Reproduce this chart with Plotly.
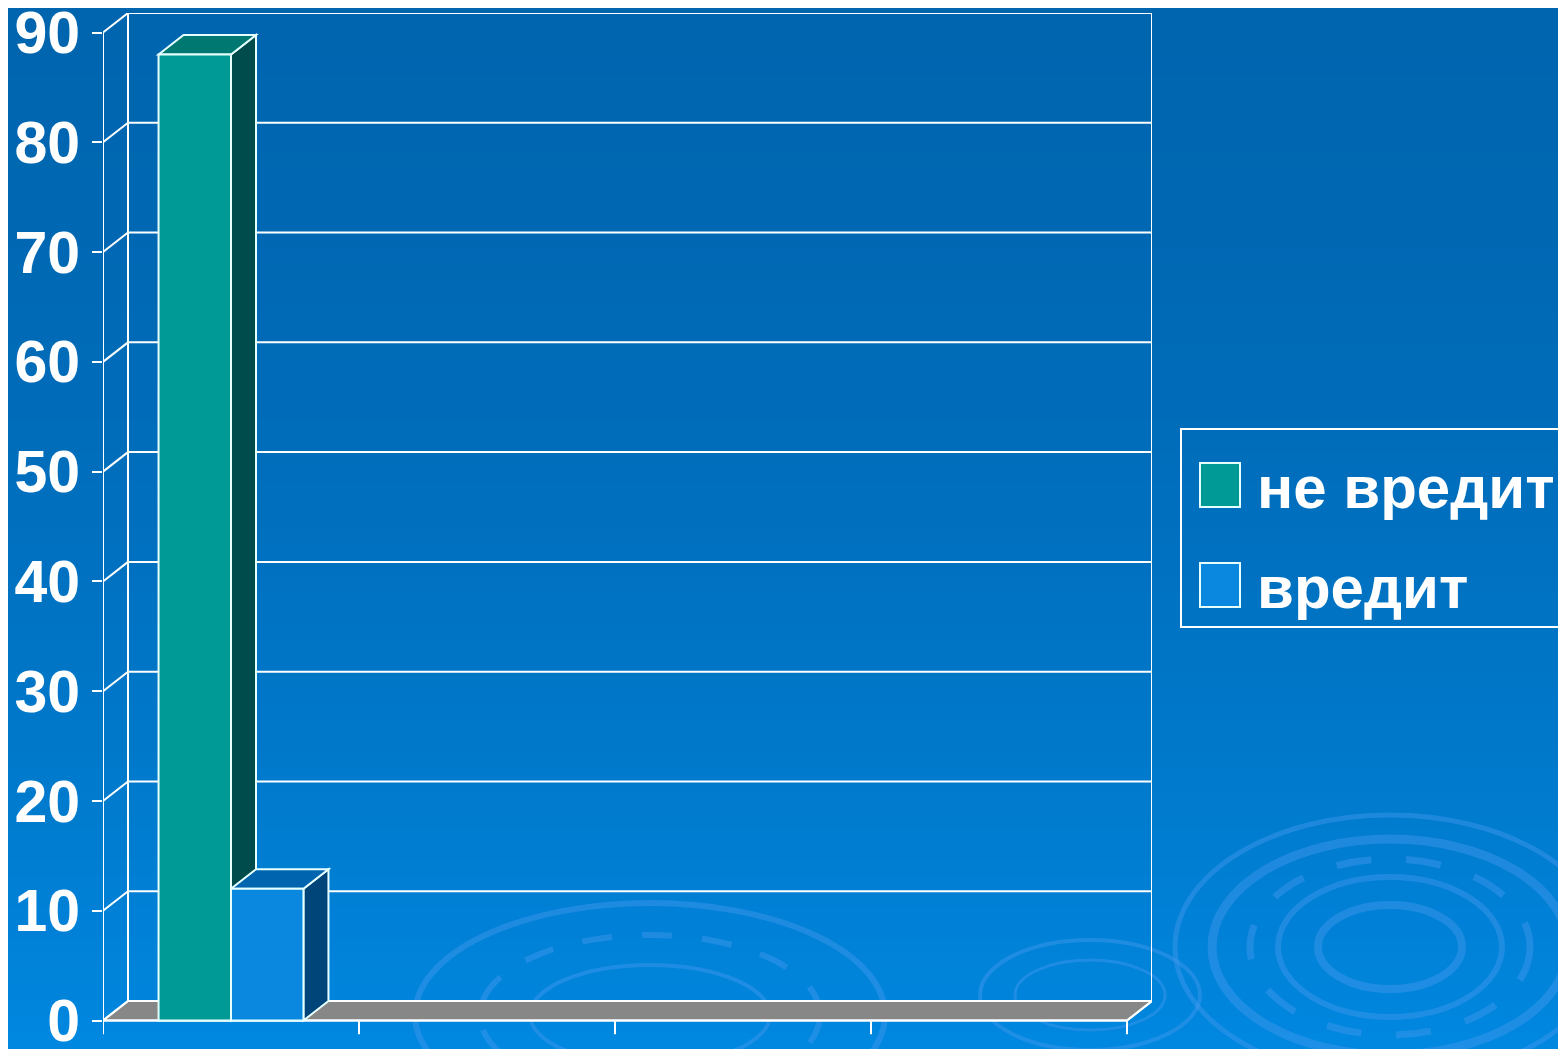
import plotly.graph_objects as go

# ---------------- data ----------------
categories = ["", "", "", ""]
series_names = ["не вредит", "вредит"]
ne_vredit = [88, None, None, None]
vredit = [12, None, None, None]
series_values = [ne_vredit, vredit]
y_ticks = [0, 10, 20, 30, 40, 50, 60, 70, 80, 90]

# ---------------- styles ----------------
W, H = 1566, 1049
OFF = 8                          # page body margin of the html page
# plot area in screen pixels: x 103..1152, y 13..1049
ML, MT = 103 - OFF, 13 - OFF
MR = W - (1152 - OFF)
MB = OFF
PW, PH = W - ML - MR, H - MT - MB
ncat = len(categories)
dx = 25 / 256.0                  # depth offset in x units
k = 10.978                       # px per value unit
dy = 19.5 / k                    # depth offset in value units
ymax = 90 + dy
ymin = ymax - PH / k
bar_w = 0.283

front_col = ["#009A96", "#0A88E0"]
side_col = ["#004C4C", "#00457A"]
top_col = ["#007872", "#0064AE"]
edge_col = "#E6FFFF"
FONT = "Liberation Sans, Arial, sans-serif"

def px2paper(sx, sy):
    """screen pixel -> paper coords"""
    return (sx - 103) / PW, (1049 - sy) / PH

shapes = []

# background gradient
N = 70
c0, c1 = (0, 101, 175), (0, 137, 226)
y_top, y_bot = -20, 1080
for i in range(N):
    t = (i + 0.5) / N
    tt = t ** 1.7
    col = tuple(int(round(c0[j] + (c1[j] - c0[j]) * tt)) for j in range(3))
    ya = px2paper(0, y_top + (y_bot - y_top) * i / N)[1]
    yb = px2paper(0, y_top + (y_bot - y_top) * (i + 1) / N + 1)[1]
    xa = px2paper(-20, 0)[0]
    xb = px2paper(W + 20, 0)[0]
    shapes.append(dict(type="rect", xref="paper", yref="paper", x0=xa, x1=xb,
                       y0=yb, y1=ya, fillcolor="rgb(%d,%d,%d)" % col,
                       line=dict(width=0), layer="below"))

# decorative ripples
ripples = [
    (1390, 947, 72, 42, 8, "solid"), (1390, 947, 112, 70, 6, "solid"),
    (1390, 947, 140, 88, 7, "longdash"), (1390, 947, 178, 108, 9, "solid"),
    (1390, 947, 215, 132, 5, "solid"),
    (650, 1015, 120, 50, 4, "solid"), (650, 1015, 170, 80, 6, "longdash"),
    (650, 1015, 235, 112, 6, "solid"),
    (1090, 995, 110, 55, 4, "solid"), (1090, 995, 75, 35, 3, "solid"),
]
for cx, cy, rx, ry, lw, dash in ripples:
    xa, ya = px2paper(cx - rx, cy + ry)
    xb, yb = px2paper(cx + rx, cy - ry)
    shapes.append(dict(type="circle", xref="paper", yref="paper", x0=xa, x1=xb,
                       y0=ya, y1=yb, fillcolor="rgba(0,0,0,0)",
                       line=dict(color="rgba(75,155,240,0.40)", width=lw, dash=dash),
                       layer="below"))

def seg(x0, y0, x1, y1, w=2, col="white"):
    shapes.append(dict(type="line", xref="x", yref="y", x0=x0, y0=y0, x1=x1, y1=y1,
                       line=dict(color=col, width=w), layer="below"))

def poly(pts, fill, w=2, col=edge_col):
    p = "M " + " L ".join("%f,%f" % (a, b) for a, b in pts) + " Z"
    shapes.append(dict(type="path", xref="x", yref="y", path=p, fillcolor=fill,
                       line=dict(color=col, width=w), layer="below"))

# floor
poly([(0, 0), (ncat, 0), (ncat + dx, dy), (dx, dy)], "#878787", 2, "white")

# back wall gridlines + left wall diagonals
for v in y_ticks:
    seg(dx, v + dy, ncat + dx, v + dy)
    seg(0, v, dx, v + dy)
seg(dx, dy, dx, y_ticks[-1] + dy)
seg(ncat + dx, dy, ncat + dx, y_ticks[-1] + dy)
seg(ncat, 0, ncat + dx, dy)
# front axes
seg(0, -1.2, 0, y_ticks[-1])
seg(0, 0, ncat, 0)
for i in range(ncat + 1):
    seg(i, 0, i, -1.25)

# bar 3D faces
offsets = [-bar_w, 0.0]
for s, vals in enumerate(series_values):
    for i, v in enumerate(vals):
        if v is None:
            continue
        xl = i + 0.5 + offsets[s]
        xr = xl + bar_w
        poly([(xr, 0), (xr, v), (xr + dx, v + dy), (xr + dx, dy)], side_col[s])
        poly([(xl, v), (xr, v), (xr + dx, v + dy), (xl + dx, v + dy)], top_col[s])

fig = go.Figure()
for s, vals in enumerate(series_values):
    xs = [i + 0.5 for i, v in enumerate(vals) if v is not None]
    ys = [v for v in vals if v is not None]
    fig.add_trace(go.Bar(x=xs, y=ys, name=series_names[s], width=bar_w,
                         offset=offsets[s], showlegend=False,
                         marker=dict(color=front_col[s],
                                     line=dict(color=edge_col, width=2))))

# manual legend
annotations = []
lx0, ly0 = px2paper(1181, 627)
lx1, ly1 = px2paper(1590, 429)
shapes.append(dict(type="rect", xref="paper", yref="paper", x0=lx0, x1=lx1,
                   y0=ly0, y1=ly1, fillcolor="rgba(0,0,0,0)",
                   line=dict(color="white", width=2), layer="above"))
item_y = [485, 585]
for s, name in enumerate(series_names):
    cy = item_y[s]
    xa, ya = px2paper(1200, cy + 22)
    xb, yb = px2paper(1240, cy - 22)
    shapes.append(dict(type="rect", xref="paper", yref="paper", x0=xa, x1=xb,
                       y0=ya, y1=yb, fillcolor=front_col[s],
                       line=dict(color=edge_col, width=2), layer="above"))
    tx, ty = px2paper(1255, cy + 2)
    annotations.append(dict(xref="paper", yref="paper", x=tx, y=ty, text="<b>%s</b>" % name,
                            showarrow=False, xanchor="left", yanchor="middle",
                            font=dict(family=FONT, size=60, color="white")))

fig.update_layout(
    width=W, height=H, autosize=False,
    margin=dict(l=ML, r=MR, t=MT, b=MB, pad=0, autoexpand=False),
    paper_bgcolor="#0066B0", plot_bgcolor="rgba(0,0,0,0)",
    barmode="overlay", showlegend=False,
    shapes=shapes, annotations=annotations,
    xaxis=dict(range=[0, ncat + dx], showgrid=False, zeroline=False, automargin=False,
               showticklabels=False, ticks="", showline=False, fixedrange=True),
    yaxis=dict(range=[ymin, ymax], tickvals=y_ticks, automargin=False,
               ticktext=["<b>%d</b>" % v for v in y_ticks],
               ticks="outside", ticklen=10, tickwidth=2, tickcolor="white",
               ticklabelstandoff=0, ticklabeloverflow="allow",
               showgrid=False, zeroline=False, showline=False, fixedrange=True,
               tickfont=dict(family=FONT, size=59, color="white")),
)

fig.write_html("out.html")
